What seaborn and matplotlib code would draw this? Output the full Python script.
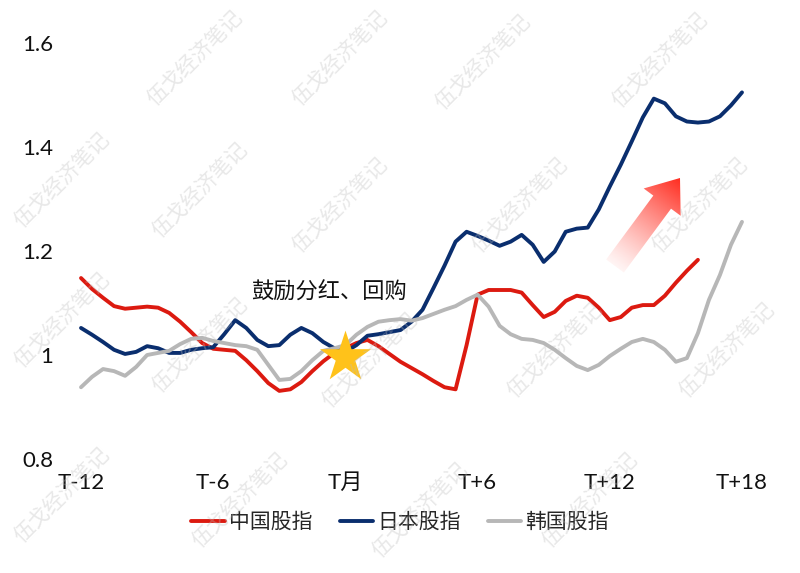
import numpy as np
import pandas as pd
import matplotlib
matplotlib.use('Agg')
import matplotlib.pyplot as plt
import seaborn as sns
from matplotlib.patches import FancyArrow
from matplotlib.transforms import IdentityTransform

# 月份（相对于T月），半月一个点
months = np.arange(-12, 18.01, 0.5)

china = [1.148, 1.127, 1.110, 1.094, 1.089, 1.091, 1.093, 1.091, 1.081, 1.064,
         1.044, 1.023, 1.012, 1.010, 1.008, 0.990, 0.969, 0.946, 0.931, 0.934,
         0.948, 0.969, 0.988, 1.004, 1.013, 1.023, 1.029, 1.017, 1.002, 0.987,
         0.975, 0.963, 0.950, 0.938, 0.934, 1.019, 1.116, 1.125, 1.125, 1.125,
         1.120, 1.096, 1.073, 1.083, 1.104, 1.114, 1.110, 1.091, 1.067, 1.073,
         1.091, 1.096, 1.096, 1.114, 1.139, 1.162, 1.183]

japan = [1.052, 1.039, 1.025, 1.010, 1.002, 1.006, 1.017, 1.013, 1.004, 1.004,
         1.010, 1.013, 1.015, 1.040, 1.067, 1.052, 1.029, 1.017, 1.019, 1.039,
         1.052, 1.042, 1.025, 1.013, 1.006, 1.019, 1.037, 1.040, 1.044, 1.048,
         1.064, 1.087, 1.129, 1.172, 1.218, 1.237, 1.229, 1.220, 1.210, 1.218,
         1.231, 1.212, 1.179, 1.199, 1.237, 1.243, 1.245, 1.280, 1.324, 1.366,
         1.411, 1.457, 1.493, 1.484, 1.459, 1.449, 1.447, 1.449, 1.459, 1.480,
         1.505]

korea = [0.938, 0.958, 0.973, 0.969, 0.960, 0.977, 1.000, 1.004, 1.008, 1.021,
         1.031, 1.033, 1.027, 1.023, 1.019, 1.017, 1.010, 0.981, 0.952, 0.954,
         0.969, 0.990, 1.008, 1.013, 1.019, 1.039, 1.054, 1.064, 1.067, 1.069,
         1.066, 1.071, 1.079, 1.087, 1.094, 1.106, 1.116, 1.093, 1.056, 1.040,
         1.031, 1.029, 1.023, 1.010, 0.994, 0.979, 0.971, 0.981, 0.998, 1.012,
         1.025, 1.031, 1.025, 1.010, 0.987, 0.994, 1.042, 1.106, 1.154, 1.212,
         1.256]

series_names = ['中国股指', '日本股指', '韩国股指']
series_colors = ['#DC1A10', '#0A2E6E', '#B7B7B7']

xtick_pos = [-12, -6, 0, 6, 12, 18]
xtick_labels = ['T-12', 'T-6', 'T月', 'T+6', 'T+12', 'T+18']
ytick_pos = [0.8, 1.0, 1.2, 1.4, 1.6]
ytick_labels = ['0.8', '1', '1.2', '1.4', '1.6']

event_month = [0]
event_value = [0.996]
event_text = '鼓励分红、回购'

df = pd.concat([
    pd.DataFrame({'month': months[:len(china)], 'value': china, 'series': series_names[0]}),
    pd.DataFrame({'month': months[:len(japan)], 'value': japan, 'series': series_names[1]}),
    pd.DataFrame({'month': months[:len(korea)], 'value': korea, 'series': series_names[2]}),
], ignore_index=True)

sns.set_theme(style='white')
plt.rcParams['font.family'] = ['Lato', 'Noto Sans CJK SC', 'DejaVu Sans']

W, H = 800, 573
fig = plt.figure(figsize=(W / 100, H / 100), dpi=100)
ax = fig.add_axes([70 / W, (H - 459) / H, (753 - 70) / W, (459 - 43) / H])

sns.lineplot(data=df, x='month', y='value', hue='series', hue_order=series_names,
             palette=series_colors, linewidth=2.8, estimator=None, sort=False, ax=ax)
for line in ax.get_lines():
    line.set_solid_joinstyle('round')
    line.set_solid_capstyle('round')

sns.scatterplot(x=event_month, y=event_value, marker='*', s=1500, color='#FFC21A',
                edgecolor='#FFC21A', linewidth=0, zorder=5, legend=False, ax=ax)

ax.text(-0.75, 1.12, event_text, ha='center', va='center', fontsize=16,
        family=['Noto Sans CJK SC'], color='#111111')

ax.set_xlim(-12.5, 18.5)
ax.set_ylim(0.8, 1.6)
ax.set_xticks(xtick_pos)
ax.set_xticklabels(xtick_labels)
ax.set_yticks(ytick_pos)
ax.set_yticklabels(ytick_labels)
ax.tick_params(axis='both', length=0, labelsize=16, colors='#111111')
ax.tick_params(axis='x', pad=10)
ax.tick_params(axis='y', pad=12)
ax.set_xlabel('')
ax.set_ylabel('')
sns.despine(ax=ax, left=True, bottom=True)

sns.move_legend(ax, 'center', bbox_to_anchor=(0.5, 1 - 522 / H),
                bbox_transform=fig.transFigure, ncol=3, frameon=False, title=None,
                fontsize=15, handlelength=1.6, handletextpad=0.2, columnspacing=1.3)
for h in ax.get_legend().get_lines():
    h.set_linewidth(2.8)

# 渐变箭头
tail_x, tail_y, dx, dy = 615, H - 266, 65, 88
arrow = FancyArrow(tail_x, tail_y, dx, dy, width=22, head_width=46, head_length=30,
                   length_includes_head=True, transform=IdentityTransform(),
                   facecolor='none', edgecolor='none')
fig.add_artist(arrow)
bx0, by_top, bw, bh = 595, 160, 110, 130
yy, xx = np.mgrid[0:bh, 0:bw]
px = bx0 + xx
py = H - (by_top + yy)
t = ((px - tail_x) * dx + (py - tail_y) * dy) / (dx * dx + dy * dy)
t = np.clip(t, 0, 1)
rgba = np.zeros((bh, bw, 4))
rgba[..., 0] = 1.0
rgba[..., 1] = 0.17
rgba[..., 2] = 0.12
rgba[..., 3] = 0.05 + 0.95 * t ** 1.2
img = fig.figimage(rgba, xo=bx0, yo=H - by_top - bh, origin='upper', zorder=4)
img.set_clip_path(arrow)

# 水印
wm_pos = [(195, 58), (340, 58), (483, 62), (660, 60),
          (62, 180), (200, 190), (340, 205), (520, 205), (700, 205),
          (62, 320), (200, 345), (370, 360), (555, 350), (727, 350),
          (62, 495), (240, 500), (420, 510), (590, 500)]
for x, y in wm_pos:
    fig.text(x / W, 1 - y / H, '伍戈经济笔记', rotation=45, fontsize=15,
             color='#bdbdbd', alpha=0.35, ha='center', va='center',
             family=['Noto Sans CJK SC'], zorder=6)

fig.savefig('out.png', dpi=100)
